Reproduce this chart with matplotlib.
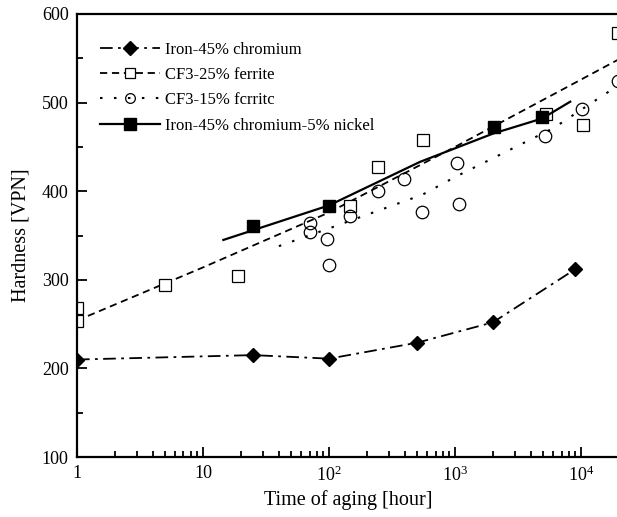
import matplotlib
matplotlib.use("Agg")
import matplotlib.pyplot as plt
from matplotlib.lines import Line2D
from matplotlib.ticker import FixedLocator, FuncFormatter, LogLocator, MultipleLocator, NullFormatter

plt.rcParams['font.family'] = ['Liberation Serif', 'DejaVu Serif']
plt.rcParams['mathtext.fontset'] = 'custom'
plt.rcParams['mathtext.rm'] = 'Liberation Serif'
plt.rcParams['mathtext.it'] = 'Liberation Serif:italic'

# ---- data ----
cr45_x = [1, 25, 100, 500, 2000, 9000]
cr45_y = [210, 215, 211, 229, 252, 312]

cf25_x = [1, 1, 5, 19, 147, 245, 560, 5300, 10400, 19500]
cf25_y = [268, 253, 294, 304, 383, 427, 458, 487, 475, 578]
cf25_fit_x = [1, 10, 100, 1000, 10000, 20000]
cf25_fit_y = [254, 314, 376, 450, 526, 549]

cf15_x = [70, 70, 96, 100, 147, 243, 394, 544, 1030, 1070, 5160, 10100, 19800]
cf15_y = [364, 354, 346, 317, 372, 400, 414, 377, 432, 386, 462, 493, 524]
cf15_fit_x = [40, 100, 550, 1000, 6000, 20000]
cf15_fit_y = [338, 358, 396, 416, 471, 520]

ni_x = [25, 100, 2050, 4880]
ni_y = [361, 383, 472, 484]
ni_fit_x = [14.5, 100, 525, 2000, 4900, 8200]
ni_fit_y = [345, 384, 433, 465, 482, 501]

labels = ['Iron-45% chromium', 'CF3-25% ferrite', 'CF3-15% fcrritc',
          'Iron-45% chromium-5% nickel']

# ---- figure ----
fig = plt.figure(figsize=(6.17, 5.17), dpi=100)
ax = fig.add_axes([77/617, 60/517, 542/617, 443/517])

ls_dd = (0, (7, 3, 1.5, 3))
ls_dash = (0, (4, 2.6))
ls_dot = (0, (1.2, 5.5))

ax.plot(cr45_x, cr45_y, color='black', lw=1.3, linestyle=ls_dd,
        marker='D', ms=7, mfc='black', mec='black')

ax.plot(cf25_fit_x, cf25_fit_y, color='black', lw=1.3, linestyle=ls_dash)
ax.plot(cf25_x, cf25_y, linestyle='none', marker='s', ms=8, mfc='white',
        mec='black', mew=0.9)

ax.plot(cf15_fit_x, cf15_fit_y, color='black', lw=1.5, linestyle=ls_dot)
ax.plot(cf15_x, cf15_y, linestyle='none', marker='o', ms=9, mfc='none',
        mec='black', mew=0.9)

ax.plot(ni_fit_x, ni_fit_y, color='black', lw=1.6, linestyle='-')
ax.plot(ni_x, ni_y, linestyle='none', marker='s', ms=8.5, mfc='black',
        mec='black')

ax.set_xscale('log')
ax.set_xlim(1, 2e4)
ax.set_ylim(100, 600)

ax.xaxis.set_major_locator(FixedLocator([1, 10, 100, 1000, 10000]))
ax.xaxis.set_minor_locator(LogLocator(base=10, subs=range(2, 10), numticks=20))
ax.xaxis.set_minor_formatter(NullFormatter())


def xfmt(v, pos):
    if v < 100:
        return '%d' % round(v)
    import math
    return r'$10^{%d}$' % round(math.log10(v))


ax.xaxis.set_major_formatter(FuncFormatter(xfmt))
ax.yaxis.set_major_locator(MultipleLocator(100))
ax.yaxis.set_minor_locator(MultipleLocator(50))

ax.tick_params(which='both', direction='in', top=False, right=False,
               labelsize=13, width=1.3)
ax.tick_params(which='major', length=7, pad=6)
ax.tick_params(which='minor', length=4)

for s in ['left', 'bottom', 'top']:
    ax.spines[s].set_linewidth(1.6)
ax.spines['right'].set_visible(False)

ax.set_xlabel('Time of aging [hour]', fontsize=14.5, labelpad=4)
ax.set_ylabel('Hardness [VPN]', fontsize=14.5, labelpad=8)

handles = [
    Line2D([], [], color='black', lw=1.3, linestyle=ls_dd, marker='D', ms=7,
           mfc='black'),
    Line2D([], [], color='black', lw=1.3, linestyle=ls_dash, marker='s', ms=7,
           mfc='white', mew=0.9),
    Line2D([], [], color='black', lw=1.5, linestyle=ls_dot, marker='o', ms=7,
           mfc='none', mew=0.9),
    Line2D([], [], color='black', lw=1.6, linestyle='-', marker='s', ms=8,
           mfc='black'),
]
fig.legend(handles, labels, loc='upper left',
           bbox_to_anchor=(100/617, 1 - 42/517), frameon=False,
           fontsize=12, handlelength=3.6, handletextpad=0.3,
           labelspacing=0.55, borderpad=0, borderaxespad=0, numpoints=1)

fig.savefig('out.png', dpi=100)
